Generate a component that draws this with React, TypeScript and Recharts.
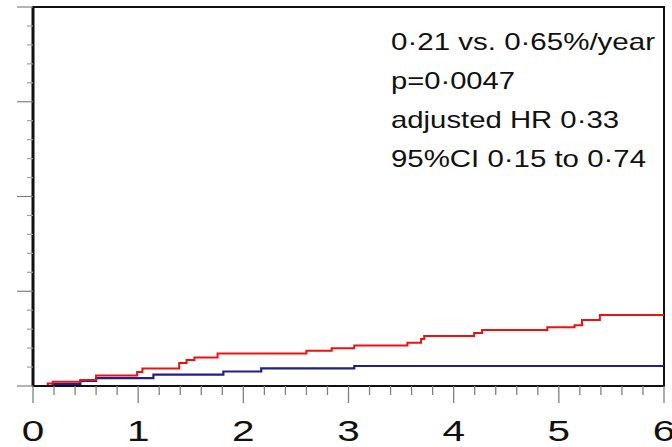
import React from 'react';
import { LineChart, Line, XAxis, YAxis, ReferenceArea } from 'recharts';

// Cumulative incidence (%) over years — step curves
const redYears = [0, 0.14, 0.187, 0.45, 0.6, 0.99, 1.04, 1.39, 1.46, 1.535, 1.755, 2.6, 2.84, 3.055, 3.56, 3.69, 3.72, 4.195, 4.27, 4.89, 5.15, 5.22, 5.39, 6];
const redValues = [0, 0.026, 0.045, 0.063, 0.11, 0.148, 0.185, 0.243, 0.274, 0.3, 0.343, 0.373, 0.398, 0.427, 0.457, 0.496, 0.528, 0.559, 0.59, 0.62, 0.64, 0.697, 0.75, 0.75];

const blueYears = [0, 0.187, 0.45, 0.6, 1.145, 1.81, 2.17, 3.055, 6];
const blueValues = [0, 0.021, 0.053, 0.084, 0.121, 0.153, 0.185, 0.211, 0.211];

const xMajorTicks = [0, 1, 2, 3, 4, 5, 6];
const xMinorStep = 0.2;
const yMajorTicks = [0, 1, 2, 3, 4];
const yMinorStep = 0.2;

const annotationLines = ['0·21 vs. 0·65%/year', 'p=0·0047', 'adjusted HR 0·33', '95%CI 0·15 to 0·74'];
const annotationWidths = [264, 124, 228, 255];

const redData = redYears.map((t, i) => ({ t, v: redValues[i] }));
const blueData = blueYears.map((t, i) => ({ t, v: blueValues[i] }));

const xTicks: number[] = [];
for (let i = 0; i <= 30; i++) xTicks.push(+(i * xMinorStep).toFixed(2));
const yTicks: number[] = [];
for (let i = 0; i <= 20; i++) yTicks.push(+(i * yMinorStep).toFixed(2));

const FONT = '"Liberation Sans", Arial, sans-serif';

const isMajor = (v: number, majors: number[]) => majors.some((m) => Math.abs(m - v) < 1e-6);

const XTick = (props: any) => {
  const { x, y, payload } = props;
  const v = payload.value;
  const major = isMajor(v, xMajorTicks);
  return (
    <g>
      <line x1={x} x2={x} y1={y} y2={y + (major ? 17 : 9)} stroke="#808080" strokeWidth={1.3} />
      {major && (
        <text
          transform={`translate(${x},${y + 54.5}) scale(1.35,1)`}
          textAnchor="middle"
          fontSize={30}
          fontFamily={FONT}
          fill="#111"
        >
          {v}
        </text>
      )}
    </g>
  );
};

const YTick = (props: any) => {
  const { x, y, payload } = props;
  const v = payload.value;
  const major = isMajor(v, yMajorTicks);
  return (
    <line x1={x - (major ? 16 : 6)} x2={x} y1={y} y2={y} stroke={major ? '#808080' : '#a0a0a0'} strokeWidth={1.2} />
  );
};

export default function App() {
  return (
    <div style={{ position: 'absolute', left: 0, top: 0, width: 672, height: 447, background: '#fff' }}>
      <LineChart width={672} height={447} margin={{ top: 7, right: 8, bottom: 0, left: 0 }}>
        <ReferenceArea x1={0} x2={6} y1={0} y2={4} fill="none" stroke="#111" strokeWidth={2} />
        <XAxis
          dataKey="t"
          type="number"
          domain={[0, 6]}
          ticks={xTicks}
          interval={0}
          height={61}
          tickSize={0}
          tickMargin={0}
          tickLine={false}
          axisLine={{ stroke: '#111', strokeWidth: 2 }}
          tick={<XTick />}
          allowDataOverflow
        />
        <YAxis
          type="number"
          domain={[0, 4]}
          ticks={yTicks}
          interval={0}
          width={33}
          tickSize={0}
          tickMargin={0}
          tickLine={false}
          axisLine={{ stroke: '#111', strokeWidth: 3 }}
          tick={<YTick />}
          allowDataOverflow
        />
        <Line
          data={blueData}
          dataKey="v"
          type="stepAfter"
          stroke="#1f1f8f"
          strokeWidth={2.2}
          dot={false}
          isAnimationActive={false}
        />
        <Line
          data={redData}
          dataKey="v"
          type="stepAfter"
          stroke="#ee1111"
          strokeWidth={2}
          dot={false}
          isAnimationActive={false}
        />
      </LineChart>
      <svg width={672} height={447} style={{ position: 'absolute', left: 0, top: 0, pointerEvents: 'none' }}>
        {annotationLines.map((s, i) => (
          <text
            key={i}
            x={391}
            y={50 + i * 39}
            fontSize={24}
            fontFamily={FONT}
            fill="#111"
            textLength={annotationWidths[i]}
            lengthAdjust="spacingAndGlyphs"
          >
            {s}
          </text>
        ))}
      </svg>
    </div>
  );
}
